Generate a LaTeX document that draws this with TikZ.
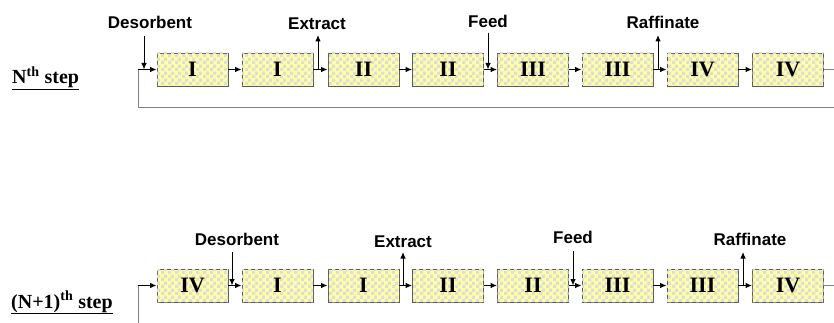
\documentclass[tikz,border=0pt]{standalone}
\usepackage{fontspec}
\setmainfont{Liberation Serif}
\newfontfamily\labfont{Liberation Sans}
\usetikzlibrary{arrows.meta,patterns}
\definecolor{boxyellow}{RGB}{255,255,165}
\definecolor{checkgray}{RGB}{222,222,215}
\definecolor{edgegray}{RGB}{90,90,90}
\definecolor{linegray}{RGB}{130,130,130}
\pgfdeclarepatternformonly{mycheck}{\pgfpointorigin}{\pgfqpoint{7pt}{7pt}}{\pgfqpoint{7pt}{7pt}}{%
  \pgfpathrectangle{\pgfpointorigin}{\pgfqpoint{3.5pt}{3.5pt}}%
  \pgfpathrectangle{\pgfqpoint{3.5pt}{3.5pt}}{\pgfqpoint{3.5pt}{3.5pt}}%
  \pgfusepath{fill}}
\tikzset{
  col/.style={draw=edgegray, line width=0.9pt, fill=boxyellow,
    postaction={pattern=mycheck, pattern color=checkgray},
    minimum width=71pt, minimum height=33pt, inner sep=0pt,
    font=\fontsize{22}{22}\selectfont\bfseries},
  flow/.style={-{Latex[length=6.5pt,width=5.5pt]}, line width=1pt, black},
  back/.style={line width=1pt, linegray},
  lab/.style={font=\labfont\fontsize{17}{17}\selectfont\bfseries, inner sep=0pt},
  steplab/.style={font=\fontsize{20}{20}\selectfont\bfseries, inner sep=0pt, anchor=base west}
}
\begin{document}
\begin{tikzpicture}[x=1pt,y=-1pt]
\useasboundingbox (0,0) rectangle (834,323);
% ---------- N-th step ----------
\node[steplab] (s1) at (12,84) {\underline{N\textsuperscript{th} step}};
\foreach \n/\x/\t in {1/192.5/I,2/277.5/I,3/363.5/II,4/448/II,5/533/III,6/617.5/III,7/702.5/IV,8/788/IV}
  \node[col] (a\n) at (\x,69.5) {\t};
\coordinate (ain) at (138,69.5);
\coordinate (abl) at (138,108);
\coordinate (abr) at (834,108);
\coordinate (aout) at (834,69.5);
\draw[back] (abr) -- (abl) -- (ain);
\draw[flow] (ain) -- (a1.west);
\draw[back] (a8.east) -- (aout);
\foreach \i/\j in {1/2,2/3,3/4,4/5,5/6,6/7,7/8}
  \draw[flow] (a\i.east) -- (a\j.west);
% labels
\node[lab] (ad) at (150,22) {Desorbent};
\node[lab] (ae) at (317,24) {Extract};
\node[lab] (af) at (488,21) {Feed};
\node[lab] (ar) at (663,22) {Raffinate};
\coordinate (adt) at (144,36); \coordinate (adb) at (144,69.5);
\draw[flow] (adt) -- (adb);
\coordinate (aeb) at (318,69.5); \coordinate (aet) at (318,35);
\draw[flow] (aeb) -- (aet);
\coordinate (aft) at (488,33); \coordinate (afb) at (488,69.5);
\draw[flow] (aft) -- (afb);
\coordinate (arb) at (658,69.5); \coordinate (art) at (658,35);
\draw[flow] (arb) -- (art);
% ---------- (N+1)-th step ----------
\node[steplab] (s2) at (11,308) {\underline{(N+1)\textsuperscript{th} step}};
\foreach \n/\x/\t in {1/192.5/IV,2/277.5/I,3/363.5/I,4/448/II,5/533/II,6/617.5/III,7/702.5/III,8/788/IV}
  \node[col] (b\n) at (\x,285.5) {\t};
\coordinate (bin) at (138,285.5);
\coordinate (bbl) at (138,323);
\coordinate (bout) at (834,285.5);
\draw[back] (bbl) -- (bin);
\draw[flow] (bin) -- (b1.west);
\draw[back] (b8.east) -- (bout);
\foreach \i/\j in {1/2,2/3,3/4,4/5,5/6,6/7,7/8}
  \draw[flow] (b\i.east) -- (b\j.west);
\node[lab] (bd) at (237,239) {Desorbent};
\node[lab] (be) at (403,242) {Extract};
\node[lab] (bf) at (573,237) {Feed};
\node[lab] (br) at (750,239) {Raffinate};
\coordinate (bdt) at (232,252); \coordinate (bdb) at (232,285.5);
\draw[flow] (bdt) -- (bdb);
\coordinate (beb) at (403,285.5); \coordinate (bet) at (403,252);
\draw[flow] (beb) -- (bet);
\coordinate (bft) at (573,251); \coordinate (bfb) at (573,285.5);
\draw[flow] (bft) -- (bfb);
\coordinate (brb) at (743,285.5); \coordinate (brt) at (743,252);
\draw[flow] (brb) -- (brt);
\end{tikzpicture}
\end{document}
